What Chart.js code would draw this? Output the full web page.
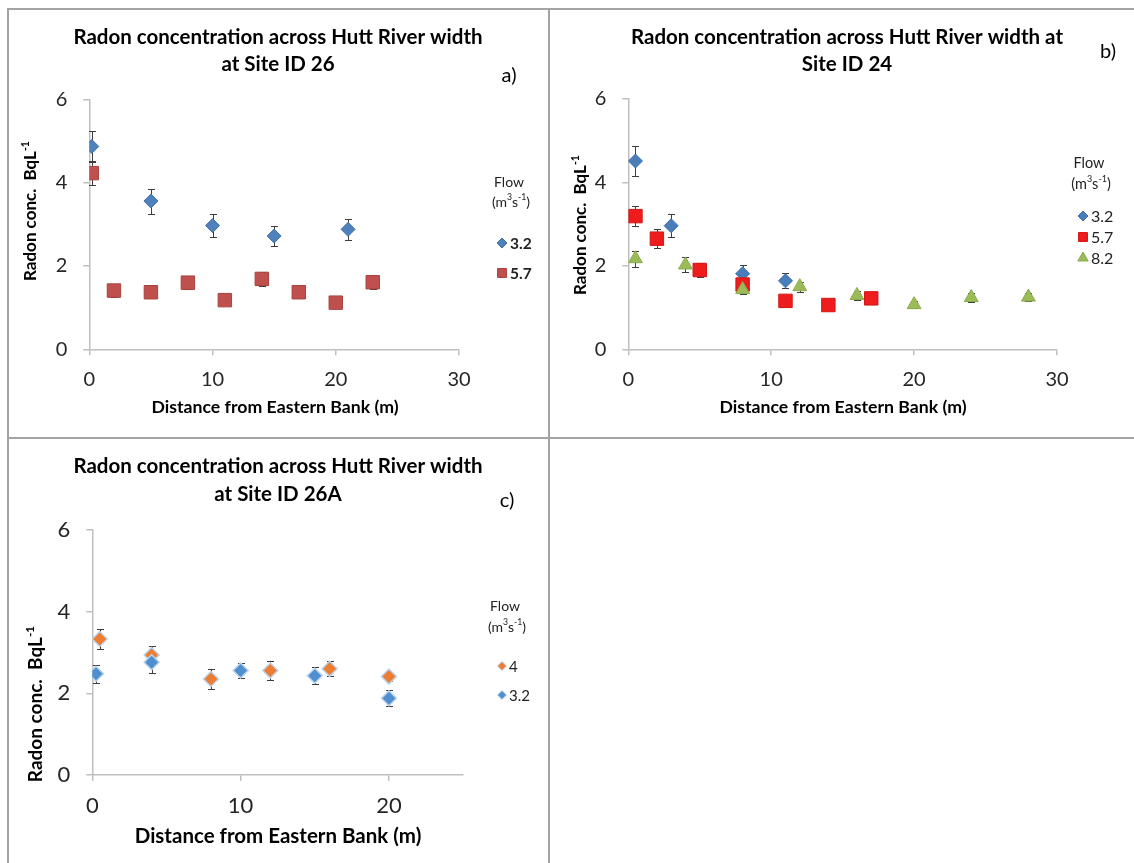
<!DOCTYPE html>
<html><head><meta charset="utf-8">
<script src="https://cdn.jsdelivr.net/npm/chart.js@4.4.1/dist/chart.umd.min.js"></script>
<style>
html,body{margin:0;padding:0;background:#fff;}
#page{position:relative;width:1134px;height:863px;overflow:hidden;background:#fff;}
.ln{position:absolute;background:#a3a3a3;}
canvas{position:absolute;}
</style></head><body>
<div id="page">
  <div class="ln" style="left:7px;top:8px;width:1127px;height:2px"></div>
  <div class="ln" style="left:7px;top:8px;width:2px;height:855px"></div>
  <div class="ln" style="left:548px;top:8px;width:2px;height:855px"></div>
  <div class="ln" style="left:7px;top:437px;width:1127px;height:2px"></div>
  <canvas id="ca" width="539" height="427" style="left:9px;top:10px"></canvas>
  <canvas id="cb" width="584" height="427" style="left:550px;top:10px"></canvas>
  <canvas id="cc" width="539" height="424" style="left:9px;top:439px"></canvas>
</div>
<script>
// ---------- DATA ----------
// Panel a) Site ID 26
const xA_32 = [0.2, 5, 10, 15, 21];
const yA_32 = [4.87, 3.56, 2.97, 2.72, 2.88];
const eA_32 = [0.37, 0.30, 0.27, 0.25, 0.26];
const xA_57 = [0.2, 2, 5, 8, 11, 14, 17, 20, 23];
const yA_57 = [4.23, 1.41, 1.37, 1.60, 1.18, 1.69, 1.37, 1.12, 1.61];
const eA_57 = [0.29, 0.15, 0.15, 0.16, 0.08, 0.16, 0.08, 0.08, 0.17];
// Panel b) Site ID 24
const xB_32 = [0.5, 3, 8, 11];
const yB_32 = [4.51, 2.96, 1.81, 1.64];
const eB_32 = [0.36, 0.27, 0.20, 0.18];
const xB_57 = [0.5, 2, 5, 8, 11, 14, 17];
const yB_57 = [3.19, 2.65, 1.90, 1.55, 1.16, 1.06, 1.22];
const eB_57 = [0.24, 0.22, 0.17, 0.10, 0.08, 0.08, 0.08];
const xB_82 = [0.5, 4, 8, 12, 16, 20, 24, 28];
const yB_82 = [2.17, 2.02, 1.43, 1.50, 1.29, 1.07, 1.24, 1.25];
const eB_82 = [0.19, 0.18, 0.10, 0.12, 0.10, 0.08, 0.10, 0.10];
// Panel c) Site ID 26A
const xC_4 = [0.5, 4, 8, 12, 16, 20];
const yC_4 = [3.33, 2.94, 2.35, 2.56, 2.60, 2.41];
const eC_4 = [0.25, 0.22, 0.25, 0.23, 0.18, 0.10];
const xC_32 = [0.25, 4, 10, 15, 20];
const yC_32 = [2.48, 2.76, 2.56, 2.43, 1.88];
const eC_32 = [0.22, 0.25, 0.19, 0.21, 0.20];
// Labels
const titleA = ['Radon concentration across Hutt River width', 'at Site ID 26'];
const titleB = ['Radon concentration across Hutt River width at', 'Site ID 24'];
const titleC = ['Radon concentration across Hutt River width', 'at Site ID 26A'];
const xTitle = 'Distance from Eastern Bank (m)';
const legendHead = 'Flow';
const yTicks = [0, 2, 4, 6];
const xTicksAB = [0, 10, 20, 30];
const xTicksC = [0, 10, 20];

// ---------- HELPERS ----------
const pts = (xs, ys, es) => xs.map((x, i) => ({x: x, y: ys[i], e: es[i]}));
const FONT = 'Lato';

const errorBars = {
  id: 'errorBars',
  beforeDatasetsDraw(chart) {
    const ctx = chart.ctx, sx = chart.scales.x, sy = chart.scales.y;
    ctx.save();
    ctx.strokeStyle = '#3c3c3c';
    ctx.lineWidth = 1;
    chart.data.datasets.forEach((ds) => {
      ds.data.forEach(p => {
        if (!p.e) return;
        const px = Math.round(sx.getPixelForValue(p.x)) + 0.5;
        const t = Math.round(sy.getPixelForValue(p.y + p.e)) + 0.5;
        const b = Math.round(sy.getPixelForValue(p.y - p.e)) + 0.5;
        ctx.beginPath();
        ctx.moveTo(px, t); ctx.lineTo(px, b);
        ctx.moveTo(px - 3.5, t); ctx.lineTo(px + 3.5, t);
        ctx.moveTo(px - 3.5, b); ctx.lineTo(px + 3.5, b);
        ctx.stroke();
      });
    });
    ctx.restore();
  }
};

function richWidth(ctx, segs, size, weight) {
  let w = 0;
  segs.forEach(s => {
    const fs = s.sup ? size * 0.62 : size;
    ctx.font = `${weight} ${fs}px ${FONT}`;
    w += ctx.measureText(s.t).width;
  });
  return w;
}
function drawRich(ctx, segs, cx, cy, size, weight, color, rot) {
  ctx.save();
  ctx.translate(cx, cy);
  if (rot) ctx.rotate(rot);
  ctx.fillStyle = color;
  ctx.textBaseline = 'middle';
  ctx.textAlign = 'left';
  const w = richWidth(ctx, segs, size, weight);
  let x = -w / 2;
  segs.forEach(s => {
    const fs = s.sup ? size * 0.62 : size;
    ctx.font = `${weight} ${fs}px ${FONT}`;
    ctx.fillText(s.t, x, s.sup ? -size * 0.33 : 0);
    x += ctx.measureText(s.t).width;
  });
  ctx.restore();
}

const deco = {
  id: 'deco',
  afterDraw(chart, args, o) {
    const ctx = chart.ctx, ox = o.ox, oy = o.oy;
    o.title.forEach((line, i) => {
      drawRich(ctx, [{t: line}], o.titleX - ox, o.titleY[i] - oy, o.titleSize, 'bold', '#000');
    });
    drawRich(ctx, [{t: o.letter}], o.letterX - ox, o.letterY - oy, o.letterSize, 'normal', '#000');
    drawRich(ctx, [{t: 'Radon conc.  BqL'}, {t: '-1', sup: true}], o.yTitleX - ox, o.yTitleY - oy, o.yTitleSize, 'bold', '#000', -Math.PI / 2);
    drawRich(ctx, [{t: xTitle}], o.xTitleX - ox, o.xTitleY - oy, o.xTitleSize, 'bold', '#000');
    drawRich(ctx, [{t: legendHead}], o.legX - ox, o.legY[0] - oy, o.legHeadSize, 'normal', '#222');
    drawRich(ctx, [{t: '(m'}, {t: '3', sup: true}, {t: 's'}, {t: '-1', sup: true}, {t: ')'}], o.legX + 2 - ox, o.legY[1] - oy, o.legHeadSize, 'normal', '#222');
    o.items.forEach((it, k) => {
      const ds = chart.data.datasets[it];
      const y = o.itemY[k] - oy;
      ctx.save();
      ctx.fillStyle = ds.backgroundColor;
      ctx.strokeStyle = ds.borderColor;
      Chart.helpers.drawPoint(ctx, {pointStyle: ds.pointStyle, radius: o.legR[ds.pointStyle], rotation: 0, borderWidth: 0.5}, o.markX - ox, y);
      ctx.restore();
      ctx.save();
      ctx.font = `${o.itemWeight} ${o.itemSize}px ${FONT}`;
      ctx.fillStyle = '#222';
      ctx.textBaseline = 'middle';
      ctx.fillText(ds.label, o.textX - ox, y + 1);
      ctx.restore();
    });
  }
};

function makeScales(xmax, tickSize, includeBounds) {
  const grid = {display: true, drawOnChartArea: false, drawTicks: true, tickLength: 6, color: '#bfbfbf', lineWidth: 1.5};
  const border = {display: true, color: '#bfbfbf', width: 1.5};
  return {
    x: {type: 'linear', min: 0, max: xmax, grid: grid, border: border,
        ticks: {stepSize: 10, includeBounds: includeBounds, padding: 12, color: '#262626', font: {family: FONT, size: tickSize}},
        afterFit: s => { s.height = 60; }},
    y: {type: 'linear', min: 0, max: 6, grid: grid, border: border,
        ticks: {stepSize: 2, padding: 16, color: '#262626', font: {family: FONT, size: tickSize}},
        afterFit: s => { s.width = 50; }}
  };
}

function makeChart(id, datasets, padding, scales, decoOpts) {
  return new Chart(document.getElementById(id), {
    type: 'scatter',
    data: {datasets: datasets},
    options: {
      responsive: false, animation: false, events: [],
      layout: {padding: padding},
      scales: scales,
      plugins: {legend: {display: false}, tooltip: {enabled: false}, title: {display: false}, deco: decoOpts}
    },
    plugins: [errorBars, deco]
  });
}

function build() {
  Chart.defaults.font.family = FONT;
  const legR = {rectRot: 5, rect: 6.3, triangle: 6};

  makeChart('ca', [
    {label: '3.2', data: pts(xA_32, yA_32, eA_32), pointStyle: 'rectRot', pointRadius: 7, backgroundColor: '#4F81BD', borderColor: '#41709f', borderWidth: 1, order: 2},
    {label: '5.7', data: pts(xA_57, yA_57, eA_57), pointStyle: 'rect', pointRadius: 9.5, backgroundColor: '#C0504D', borderColor: '#a8423f', borderWidth: 1, order: 1}
  ], {left: 30.3, top: 89.4, right: 89, bottom: 27.7}, makeScales(30, 20, true), {
    ox: 9, oy: 10, title: titleA, titleX: 278, titleY: [37, 64], titleSize: 20.5,
    letter: 'a)', letterX: 509, letterY: 76, letterSize: 20,
    yTitleX: 31, yTitleY: 211, yTitleSize: 17, xTitleX: 275, xTitleY: 407, xTitleSize: 17.7,
    legX: 509, legY: [182, 202], legHeadSize: 14, items: [0, 1], itemY: [243, 273], markX: 502, textX: 510,
    itemSize: 15.5, itemWeight: 'bold', legR: legR
  });

  makeChart('cb', [
    {label: '3.2', data: pts(xB_32, yB_32, eB_32), pointStyle: 'rectRot', pointRadius: 7, backgroundColor: '#4A7EBB', borderColor: '#3f6fa8', borderWidth: 1, order: 3},
    {label: '5.7', data: pts(xB_57, yB_57, eB_57), pointStyle: 'rect', pointRadius: 9.5, backgroundColor: '#EE1C1C', borderColor: '#d51515', borderWidth: 1, order: 2},
    {label: '8.2', data: pts(xB_82, yB_82, eB_82), pointStyle: 'triangle', pointRadius: 8, backgroundColor: '#9BBB59', borderColor: '#8aab4b', borderWidth: 1, order: 1}
  ], {left: 28.3, top: 88.8, right: 77, bottom: 27.7}, makeScales(30, 20, true), {
    ox: 550, oy: 10, title: titleB, titleX: 847, titleY: [37, 64], titleSize: 20.5,
    letter: 'b)', letterX: 1108, letterY: 52, letterSize: 20,
    yTitleX: 581, yTitleY: 225, yTitleSize: 17, xTitleX: 843, xTitleY: 407, xTitleSize: 17.7,
    legX: 1089, legY: [163, 184], legHeadSize: 14.5, items: [0, 1, 2], itemY: [216, 237, 258], markX: 1083, textX: 1091,
    itemSize: 16, itemWeight: 'normal', legR: legR
  });

  makeChart('cc', [
    {label: '4', data: pts(xC_4, yC_4, eC_4), pointStyle: 'rectRot', pointRadius: 7.5, backgroundColor: '#ED7D31', borderColor: '#bcd3ec', borderWidth: 1.5, order: 2},
    {label: '3.2', data: pts(xC_32, yC_32, eC_32), pointStyle: 'rectRot', pointRadius: 7.5, backgroundColor: '#4F8FD0', borderColor: '#bcd3ec', borderWidth: 1.5, order: 1}
  ], {left: 33.3, top: 91, right: 84.9, bottom: 28}, makeScales(25, 22, false), {
    ox: 9, oy: 439, title: titleC, titleX: 278, titleY: [466, 494], titleSize: 20.5,
    letter: 'c)', letterX: 507, letterY: 501, letterSize: 20,
    yTitleX: 36, yTitleY: 704, yTitleSize: 19, xTitleX: 278, xTitleY: 836, xTitleSize: 20.5,
    legX: 505, legY: [606, 627], legHeadSize: 14, items: [0, 1], itemY: [666, 695], markX: 502, textX: 509,
    itemSize: 15, itemWeight: 'normal', legR: {rectRot: 4.5, rect: 6, triangle: 6}
  });
}

if (document.fonts && document.fonts.load) {
  Promise.all([document.fonts.load('bold 18px Lato'), document.fonts.load('18px Lato')]).then(build, build);
} else { build(); }
</script>
</body></html>
